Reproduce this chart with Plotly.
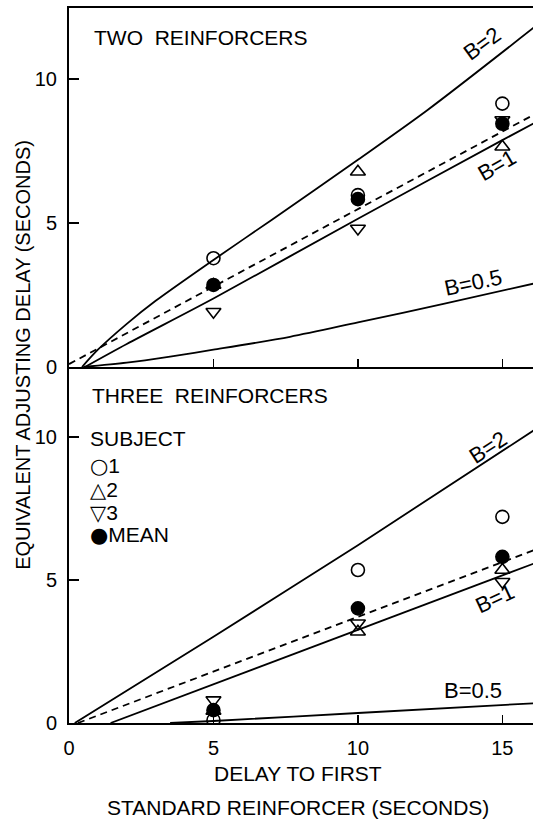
import plotly.graph_objects as go

# ---------------- data ----------------
x_points = [5, 10, 15]

# Two reinforcers (top panel)
two_s1 = [3.78, 5.97, 9.15]
two_s2 = [2.85, 6.78, 7.65]
two_s3 = [1.92, 4.81, 8.58]
two_mean = [2.85, 5.83, 8.45]

two_b2_x = [0.45, 1, 2, 3, 5, 7, 10, 12.4, 16.1]
two_b2_y = [0, 0.6, 1.5, 2.3, 3.72, 5.1, 7.2, 8.92, 11.8]
two_b1_x = [0.55, 2, 5, 10, 15, 16.1]
two_b1_y = [0, 0.8, 2.38, 5.15, 7.88, 8.47]
two_b05_x = [0.5, 2, 3.5, 5, 7.65, 10, 13, 16.1]
two_b05_y = [0, 0.15, 0.36, 0.6, 1.05, 1.55, 2.2, 2.9]
two_fit_x = [0, 16.1]
two_fit_y = [0.1, 8.77]

# Three reinforcers (bottom panel)
three_s1 = [0.1, 5.35, 7.21]
three_s2 = [0.42, 3.19, 5.35]
three_s3 = [0.8, 3.49, 4.94]
three_mean = [0.45, 4.01, 5.81]

three_b2_x = [0.2, 5, 10, 16.1]
three_b2_y = [0, 3.02, 6.22, 10.24]
three_b1_x = [1.44, 10, 16.1]
three_b1_y = [0, 3.25, 5.58]
three_b05_x = [3.5, 5, 10, 16.1]
three_b05_y = [0, 0.07, 0.35, 0.69]
three_fit_x = [0.31, 16.1]
three_fit_y = [0, 6.05]

x_ticks = [0, 5, 10, 15]
y_ticks = [0, 5, 10]

legend_labels = ["1", "2", "3", "MEAN"]
legend_glyphs = ["\u25CB", "\u25B3", "\u25BD", "\u25CF"]

FONT = "Liberation Sans"
BLACK = "black"
LW = 1.8
MS = 13

fig = go.Figure()

def add_line(xs, ys, xa, ya, dash="solid", spline=False):
    fig.add_trace(go.Scatter(x=xs, y=ys, mode="lines", xaxis=xa, yaxis=ya,
                             line=dict(color=BLACK, width=LW, dash=dash,
                                       shape="spline" if spline else "linear",
                                       smoothing=0.8),
                             showlegend=False, hoverinfo="skip"))

# curves
add_line(two_b2_x, two_b2_y, "x2", "y2", spline=True)
add_line(two_b1_x, two_b1_y, "x2", "y2", spline=True)
add_line(two_b05_x, two_b05_y, "x2", "y2", spline=True)
add_line(two_fit_x, two_fit_y, "x2", "y2", dash="7px,5px")
add_line(three_b2_x, three_b2_y, "x", "y", spline=True)
add_line(three_b1_x, three_b1_y, "x", "y")
add_line(three_b05_x, three_b05_y, "x", "y", spline=True)
add_line(three_fit_x, three_fit_y, "x", "y", dash="7px,5px")

series = [
    ("1", "circle-open", two_s1, three_s1),
    ("2", "triangle-up-open", two_s2, three_s2),
    ("3", "triangle-down-open", two_s3, three_s3),
    ("MEAN", "circle", two_mean, three_mean),
]
for name, sym, top_vals, bot_vals in series:
    mk = dict(symbol=sym, size=MS, color=BLACK, line=dict(color=BLACK, width=1.6))
    fig.add_trace(go.Scatter(x=x_points, y=top_vals, mode="markers", xaxis="x2", yaxis="y2",
                             marker=mk, name=name, showlegend=False, hoverinfo="skip"))
    fig.add_trace(go.Scatter(x=x_points, y=bot_vals, mode="markers", xaxis="x", yaxis="y",
                             marker=mk, name=name, showlegend=False, hoverinfo="skip"))

XR = [0, 16.06]
split = 356 / 715

common_x = dict(range=XR, showgrid=False, zeroline=False, showline=True, linecolor=BLACK,
                linewidth=2, ticks="inside", ticklen=8, tickwidth=1.5, tickcolor=BLACK,
                tickvals=x_ticks, automargin=False)
common_y = dict(showgrid=False, zeroline=False, showline=True, linecolor=BLACK,
                linewidth=2, ticks="inside", ticklen=10, tickwidth=1.5, tickcolor=BLACK,
                tickvals=y_ticks, ticktext=[str(v) for v in y_ticks], automargin=False,
                tickfont=dict(family=FONT, size=20, color=BLACK), ticklabelstandoff=6)

fig.update_layout(
    width=533, height=820,
    margin=dict(l=69, r=0, t=8, b=97),
    paper_bgcolor="white", plot_bgcolor="white",
    font=dict(family=FONT, color=BLACK),
    showlegend=False,
    xaxis=dict(**common_x, anchor="y", domain=[0, 1],
               ticktext=[str(v) for v in x_ticks],
               tickfont=dict(family=FONT, size=20, color=BLACK), ticklabelstandoff=6),
    xaxis2=dict(**common_x, anchor="y2", matches="x", showticklabels=False, mirror=True),
    yaxis=dict(**common_y, anchor="x", domain=[0, split], range=[0, 12.45]),
    yaxis2=dict(**common_y, anchor="x2", domain=[split, 1], range=[0, 12.47]),
)

ann = []
def txt(text, x, y, xref, yref, size=21, angle=0, xanchor="center"):
    ann.append(dict(text=text, x=x, y=y, xref=xref, yref=yref, showarrow=False,
                    textangle=angle, xanchor=xanchor, yanchor="middle",
                    font=dict(family=FONT, size=size, color=BLACK)))

txt("TWO  REINFORCERS", 0.0496, 0.959, "paper", "paper", xanchor="left")
txt("THREE  REINFORCERS", 0.0453, 0.4587, "paper", "paper", xanchor="left")
txt("EQUIVALENT ADJUSTING DELAY (SECONDS)", -0.099, 0.515, "paper", "paper", size=20, angle=-90)
txt("DELAY TO FIRST", 0.4935, -0.07, "paper", "paper", size=21)
txt("STANDARD REINFORCER (SECONDS)", 0.4935, -0.1175, "paper", "paper", size=21)

# legend block
txt("SUBJECT", 0.041, 0.3986, "paper", "paper", xanchor="left")
leg_y = [0.3594, 0.3259, 0.2937, 0.2629]
for g, lab, yy in zip(legend_glyphs, legend_labels, leg_y):
    txt("<span style='font-family:DejaVu Sans'>" + g + "</span>" + lab,
        0.041, yy, "paper", "paper", xanchor="left")

txt("B=2", 14.3, 11.25, "x2", "y2", size=22, angle=-36)
txt("B=1", 14.8, 7.0, "x2", "y2", size=22, angle=-30)
txt("B=0.5", 14.0, 2.95, "x2", "y2", size=22, angle=-12)
txt("B=2", 14.5, 9.65, "x", "y", size=22, angle=-33)
txt("B=1", 14.75, 4.35, "x", "y", size=22, angle=-25)
txt("B=0.5", 14.0, 1.15, "x", "y", size=22, angle=0)

fig.update_layout(annotations=ann)

fig.write_html("out.html",
               config={"displayModeBar": False, "staticPlot": True},
               post_script="document.body.style.margin='0px';document.body.style.overflow='hidden';")
